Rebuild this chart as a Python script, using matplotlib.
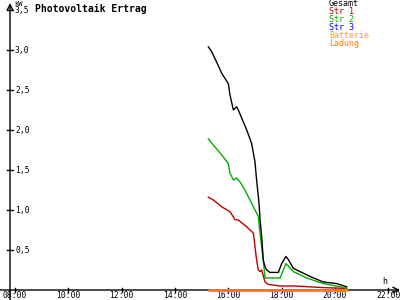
import matplotlib
matplotlib.use("Agg")
import matplotlib.pyplot as plt

# Daten (Stunden, kW)
t_gesamt = [15.25, 15.375, 15.56, 15.75, 16.0, 16.06, 16.19, 16.31, 16.375, 16.5,
            16.69, 16.875, 17.0, 17.06, 17.125, 17.16, 17.19, 17.25, 17.31, 17.375,
            17.44, 17.56, 17.875, 18.0, 18.16, 18.25, 18.44, 18.69, 19.06, 19.56,
            20.06, 20.44]
v_gesamt = [3.04, 2.98, 2.85, 2.71, 2.58, 2.44, 2.25, 2.29, 2.25, 2.15,
            2.0, 1.83, 1.6, 1.375, 1.17, 1.04, 0.875, 0.67, 0.375, 0.29,
            0.25, 0.22, 0.22, 0.33, 0.42, 0.38, 0.27, 0.23, 0.17, 0.10,
            0.08, 0.04]

t_str1 = [15.25, 15.44, 15.75, 16.06, 16.25, 16.375, 16.69, 16.94, 17.0, 17.06,
          17.125, 17.19, 17.25, 17.375, 17.5, 17.94, 18.5, 19.56, 20.44]
v_str1 = [1.16, 1.125, 1.04, 0.98, 0.88, 0.875, 0.79, 0.71, 0.54, 0.375,
          0.25, 0.23, 0.25, 0.10, 0.07, 0.05, 0.05, 0.03, 0.02]

t_str2 = [15.25, 15.44, 15.75, 16.0, 16.06, 16.19, 16.31, 16.44, 16.625, 16.81,
          17.0, 17.125, 17.16, 17.25, 17.31, 17.375, 17.94, 18.16, 18.44, 18.94,
          19.56, 20.19, 20.44]
v_str2 = [1.89, 1.81, 1.69, 1.58, 1.46, 1.375, 1.40, 1.35, 1.25, 1.125,
          1.0, 0.92, 0.79, 0.54, 0.375, 0.15, 0.15, 0.33, 0.23, 0.15,
          0.08, 0.04, 0.02]

t_ladung = [15.22, 20.47]
v_ladung = [0.0, 0.0]

y_ticks = [0.5, 1.0, 1.5, 2.0, 2.5, 3.0, 3.5]
x_ticks = [8, 10, 12, 14, 16, 18, 20, 22]
legende = ["Gesamt", "Str 1", "Str 2", "Str 3", "Batterie", "Ladung"]
farben = ["#000000", "#c00000", "#00b000", "#0000ff", "#ffa500", "#ff8000"]

# Pixel-Abbildung: 26.67 px pro Stunde, 80 px pro kW
px_h = 400 / 15.0
px_kw = 80.0
x0 = 8 - 15 / px_h
y0 = -10 / px_kw

fig = plt.figure(figsize=(4, 3), dpi=100)
ax = fig.add_axes([0, 0, 1, 1])
ax.set_xlim(x0, x0 + 400 / px_h)
ax.set_ylim(y0, y0 + 300 / px_kw)
ax.axis("off")

mono = "DejaVu Sans Mono"
dx = 1 / px_h
dy = 1 / px_kw
xa = x0 + 10 * dx  # y-Achse bei x=10 px

# Achsen
ax.annotate("", xy=(xa, y0 + 297 * dy), xytext=(xa, y0),
            arrowprops=dict(arrowstyle="->", color="black", lw=1, shrinkA=0, shrinkB=0))
ax.annotate("", xy=(x0 + 400 * dx, 0), xytext=(x0, 0),
            arrowprops=dict(arrowstyle="->", color="black", lw=1, shrinkA=0, shrinkB=0))

for v in y_ticks:
    ax.plot([xa - 3 * dx, xa + 3 * dx], [v, v], color="black", lw=1)
    ax.text(xa + 5 * dx, v, f"{v:.1f}".replace(".", ","), fontsize=5.8,
            family=mono, va="center", ha="left")
for h in x_ticks:
    ax.plot([h, h], [-2 * dy, 2 * dy], color="black", lw=1)
    ax.text(h, -5.5 * dy, f"{h:02d}:00", fontsize=5.8, family=mono,
            va="center", ha="center")

ax.text(xa + 4 * dx, y0 + 296 * dy, "kW", fontsize=5, family=mono, va="center", ha="left")
ax.text(x0 + 385 * dx, 8 * dy, "h", fontsize=6, family=mono, va="center", ha="center")
ax.text(x0 + 35 * dx, y0 + 291 * dy, "Photovoltaik Ertrag", fontsize=7,
        family=mono, weight="bold", va="center", ha="left")

# Kurven
ax.plot(t_ladung, v_ladung, color=farben[5], lw=2, solid_capstyle="butt", zorder=5)
ax.plot(t_str1, v_str1, color=farben[1], lw=1, zorder=4)
ax.plot(t_str2, v_str2, color=farben[2], lw=1, zorder=4)
ax.plot(t_gesamt, v_gesamt, color=farben[0], lw=1, zorder=4)

# Legende
for i, (name, c) in enumerate(zip(legende, farben)):
    ax.text(x0 + 329 * dx, y0 + (296 - 8 * i) * dy, name, fontsize=6,
            family=mono, color=c, va="center", ha="left")

fig.savefig("out.png", dpi=100)
